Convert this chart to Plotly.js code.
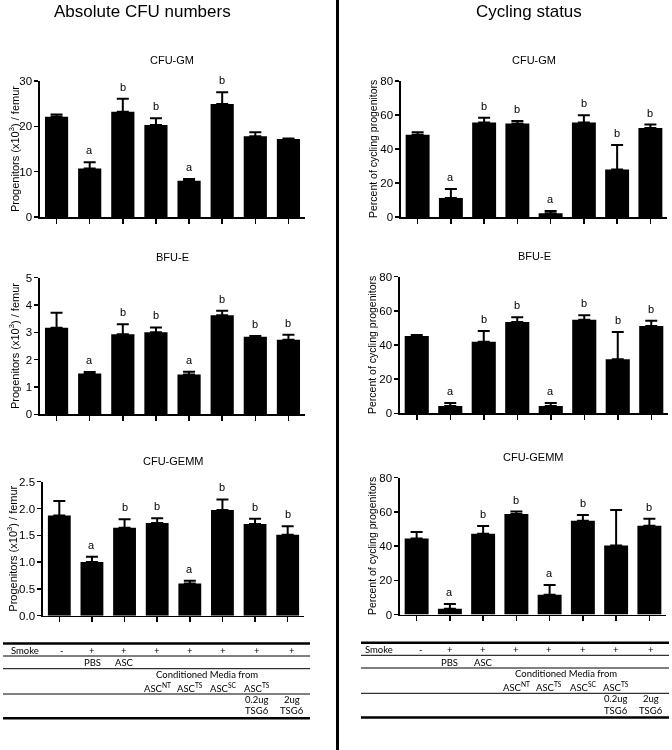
<!DOCTYPE html>
<html><head><meta charset="utf-8">
<script src="https://cdn.plot.ly/plotly-3.0.1.min.js"></script>
<style>
html,body{margin:0;padding:0;background:#fff;}
#chart{width:672px;height:750px;will-change:transform;transform:translateZ(0);}
</style>
</head><body><div id="chart"></div>
<script>
// ---- data ----
const groups = ['Control', 'PBS', 'ASC', 'CM ASC-NT', 'CM ASC-TS', 'CM ASC-SC', 'CM ASC-TS 0.2ug TSG6', 'CM ASC-TS 2ug TSG6'];

const absGM      = [22.1, 10.7, 23.2, 20.3, 8.0, 24.9, 17.8, 17.2];
const absGMErr   = [0.5, 1.4, 2.9, 1.5, 0.4, 2.6, 0.9, 0.1];
const absGMSig   = ['', 'a', 'b', 'b', 'a', 'b', '', ''];

const absBFU     = [3.17, 1.49, 2.93, 3.00, 1.46, 3.63, 2.84, 2.73];
const absBFUErr  = [0.55, 0.06, 0.37, 0.18, 0.10, 0.16, 0.03, 0.18];
const absBFUSig  = ['', 'a', 'b', 'b', 'a', 'b', 'b', 'b'];

const absGEMM    = [1.87, 1.00, 1.64, 1.73, 0.60, 1.97, 1.71, 1.51];
const absGEMMErr = [0.27, 0.10, 0.16, 0.09, 0.05, 0.20, 0.10, 0.16];
const absGEMMSig = ['', 'a', 'b', 'b', 'a', 'b', 'b', 'b'];

const cycGM      = [48.4, 11.2, 55.6, 55.0, 2.2, 55.6, 28.0, 52.4];
const cycGMErr   = [1.5, 5.3, 2.8, 1.4, 1.4, 4.3, 14.3, 2.0];
const cycGMSig   = ['', 'a', 'b', 'b', 'a', 'b', 'b', 'b'];

const cycBFU     = [45.3, 4.3, 41.9, 53.5, 4.3, 54.8, 31.6, 51.1];
const cycBFUErr  = [0.5, 1.7, 6.3, 2.7, 1.7, 2.6, 16.0, 3.1];
const cycBFUSig  = ['', 'a', 'b', 'b', 'a', 'b', 'b', 'b'];

const cycGEMM    = [44.4, 3.3, 47.2, 58.8, 11.6, 54.8, 40.4, 51.9];
const cycGEMMErr = [3.8, 2.9, 4.5, 1.4, 5.7, 3.4, 20.7, 4.1];
const cycGEMMSig = ['', 'a', 'b', 'b', 'a', 'b', '', 'b'];

const tableSmoke = ['-', '+', '+', '+', '+', '+', '+', '+'];
const tableTreat = ['', 'PBS', 'ASC', '', '', '', '', ''];
const tableCM    = ['', '', '', 'ASC<sup>NT</sup>', 'ASC<sup>TS</sup>', 'ASC<sup>SC</sup>', 'ASC<sup>TS</sup>', ''];
const tableDose  = ['', '', '', '', '', '', '0.2ug', '2ug'];
const tableTSG   = ['', '', '', '', '', '', 'TSG6', 'TSG6'];

// ---- layout helpers ----
const W = 672, H = 750;
const px = x => x / W, py = y => 1 - y / H;
const FONT = 'Liberation Sans, Arial, sans-serif';
const TFONT = 'Lato, Carlito, sans-serif';

const panels = [
  {title:'CFU-GM', v:absGM, e:absGMErr, s:absGMSig, x:[40,305], y:[81,217], r:[0,30], dt:10, fmt:'', yt:'Progenitors (x10<sup>3</sup>) / femur', tx:14, bw:0.7, yfs:11},
  {title:'BFU-E', v:absBFU, e:absBFUErr, s:absBFUSig, x:[40,305], y:[277.7,414.3], r:[0,5], dt:1, fmt:'', yt:'Progenitors (x10<sup>3</sup>) / femur', tx:14, bw:0.7, yfs:11},
  {title:'CFU-GEMM', v:absGEMM, e:absGEMMErr, s:absGEMMSig, x:[43,304], y:[481.7,615.7], r:[0,2.5], dt:0.5, fmt:'.1f', yt:'Progenitors (x10<sup>3</sup>) / femur', tx:12, bw:0.7, yfs:11},
  {title:'CFU-GM', v:cycGM, e:cycGMErr, s:cycGMSig, x:[401,667], y:[81,217], r:[0,80], dt:20, fmt:'', yt:'Percent of cycling progenitors', tx:373, bw:0.72, yfs:10.5},
  {title:'BFU-E', v:cycBFU, e:cycBFUErr, s:cycBFUSig, x:[400,668], y:[276.7,413.3], r:[0,80], dt:20, fmt:'', yt:'Percent of cycling progenitors', tx:372, bw:0.72, yfs:10.5},
  {title:'CFU-GEMM', v:cycGEMM, e:cycGEMMErr, s:cycGEMMSig, x:[400,666], y:[477.7,614.5], r:[0,80], dt:20, fmt:'', yt:'Percent of cycling progenitors', tx:372, bw:0.72, yfs:10.5}
];

const data = [];
const layout = {
  width: W, height: H,
  margin: {l:0, r:0, t:0, b:0},
  paper_bgcolor: '#fff', plot_bgcolor: '#fff',
  showlegend: false,
  font: {family: FONT, color: '#000'},
  annotations: [], shapes: []
};

panels.forEach((p, i) => {
  const n = i + 1;
  const xa = n === 1 ? 'x' : 'x' + n, ya = n === 1 ? 'y' : 'y' + n;
  data.push({
    type: 'bar', x: groups, y: p.v, xaxis: xa, yaxis: ya,
    width: p.bw,
    marker: {color: '#000', line: {width: 0}},
    error_y: {type: 'data', symmetric: false, array: p.e, arrayminus: p.e.map(() => 0),
              color: '#000', thickness: 2, width: 6},
    hoverinfo: 'skip'
  });
  layout['xaxis' + (n === 1 ? '' : n)] = {
    domain: [px(p.x[0]), px(p.x[1])], anchor: ya,
    type: 'category', categoryorder: 'array', categoryarray: groups,
    range: [-0.5, 7.5], autorange: false,
    showline: true, linewidth: 1.6, linecolor: '#000',
    ticks: 'outside', ticklen: 5, tickwidth: 1.5, tickcolor: '#000',
    showticklabels: false, showgrid: false, zeroline: false, fixedrange: true
  };
  layout['yaxis' + (n === 1 ? '' : n)] = {
    domain: [py(p.y[1]), py(p.y[0])], anchor: xa,
    range: p.r, autorange: false, dtick: p.dt, tick0: 0, tickformat: p.fmt,
    showline: true, linewidth: 1.6, linecolor: '#000',
    ticks: 'outside', ticklen: 4, tickwidth: 1.5, tickcolor: '#000',
    tickfont: {family: FONT, size: 11.5, color: '#000'},
    showgrid: false, zeroline: false, fixedrange: true
  };
  layout.annotations.push({
    text: p.title, xref: 'paper', yref: 'paper',
    x: px((p.x[0] + p.x[1]) / 2), y: py(p.y[0] - 21), xanchor: 'center', yanchor: 'middle',
    showarrow: false, font: {family: FONT, size: 11, color: '#000'}
  });
  layout.annotations.push({
    text: p.yt, xref: 'paper', yref: 'paper', textangle: -90,
    x: px(p.tx), y: py((p.y[0] + p.y[1]) / 2), xanchor: 'center', yanchor: 'middle',
    showarrow: false, font: {family: FONT, size: p.yfs, color: '#000'}
  });
  p.s.forEach((s, k) => {
    if (!s) return;
    layout.annotations.push({
      text: s, xref: xa, yref: ya, x: groups[k], y: p.v[k] + p.e[k],
      xanchor: 'center', yanchor: 'bottom', yshift: 4, showarrow: false,
      font: {family: FONT, size: 11, color: '#000'}
    });
  });
});

layout.annotations.push({text: 'Absolute CFU numbers', xref: 'paper', yref: 'paper', x: px(142), y: py(11),
  xanchor: 'center', yanchor: 'middle', showarrow: false, font: {family: FONT, size: 17, color: '#000'}});
layout.annotations.push({text: 'Cycling status', xref: 'paper', yref: 'paper', x: px(528.5), y: py(11),
  xanchor: 'center', yanchor: 'middle', showarrow: false, font: {family: FONT, size: 17, color: '#000'}});

layout.shapes.push({type: 'line', xref: 'paper', yref: 'paper', x0: px(337.5), x1: px(337.5), y0: 0, y1: 1,
  line: {color: '#000', width: 3}});

const tables = [
  {x0: 3, x1: 310, label: 25, cols: [62, 92, 124, 157, 190, 223, 257, 292], cm: 207, dy: 0},
  {x0: 361, x1: 669, label: 379, cols: [421, 450, 483, 516, 549, 583, 616, 651], cm: 566, dy: -0.7}
];
tables.forEach(t => {
  const hline = (y, w) => layout.shapes.push({type: 'line', xref: 'paper', yref: 'paper',
    x0: px(t.x0), x1: px(t.x1), y0: py(y + t.dy), y1: py(y + t.dy), line: {color: '#000', width: w}});
  hline(643.5, 2.5); hline(656, 1); hline(668.7, 1); hline(694, 1); hline(718.3, 2.5);
  const txt = (s, x, y) => layout.annotations.push({text: s, xref: 'paper', yref: 'paper',
    x: px(x), y: py(y + t.dy), xanchor: 'center', yanchor: 'middle', showarrow: false,
    font: {family: TFONT, size: 9.5, color: '#000'}});
  txt('Smoke', t.label, 650.5);
  t.cols.forEach((cx, k) => {
    txt(tableSmoke[k], cx, 650.5);
    if (tableTreat[k]) txt(tableTreat[k], cx, 662.7);
    if (tableCM[k]) txt(tableCM[k], cx, 687.5);
    if (tableDose[k]) txt(tableDose[k], cx, 699.5);
    if (tableTSG[k]) txt(tableTSG[k], cx, 710.7);
  });
  txt('Conditioned Media from', t.cm, 674);
});

Plotly.newPlot('chart', data, layout, {staticPlot: true, displayModeBar: false});
</script>
</body></html>
